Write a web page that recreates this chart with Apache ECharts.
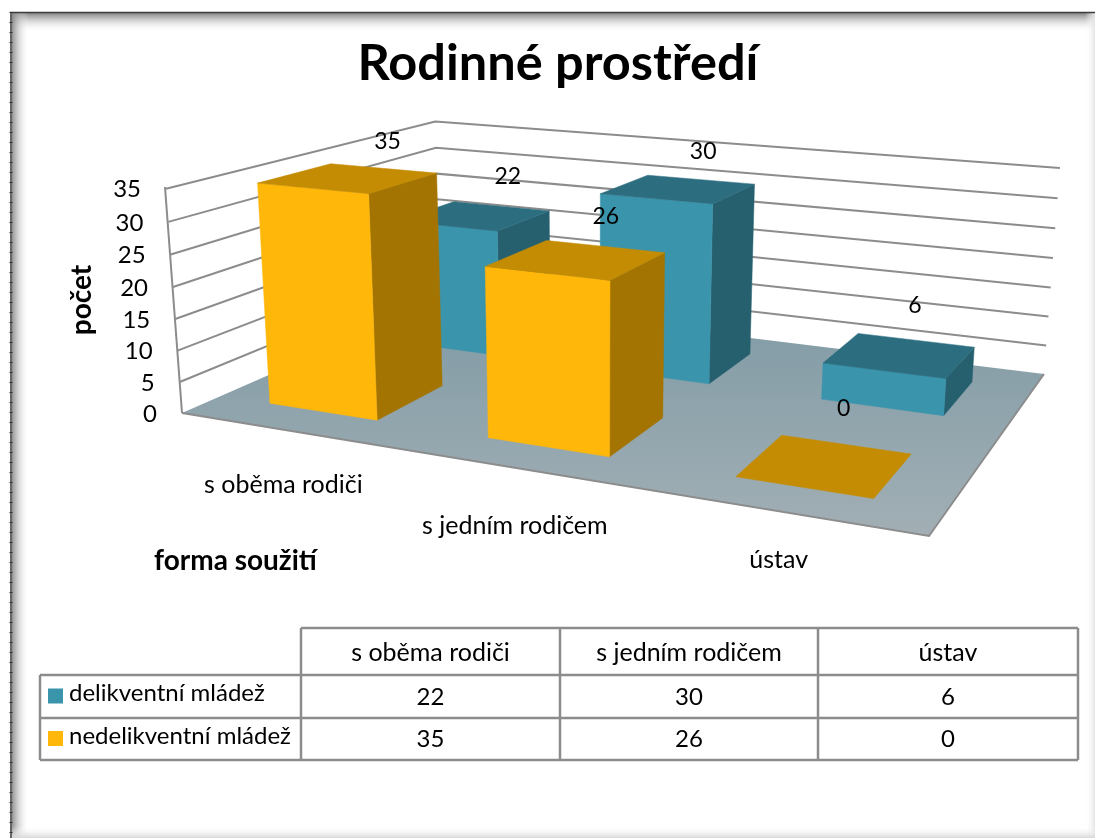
<!DOCTYPE html>
<html><head><meta charset="utf-8">
<style>html,body{margin:0;padding:0;background:#fff}#c{width:1095px;height:838px}</style>
<script src="https://cdn.jsdelivr.net/npm/echarts@6/dist/echarts.min.js"></script>
</head><body><div id="c"></div>
<script>
const titleText = 'Rodinné prostředí';
const categories = ['s oběma rodiči', 's jedním rodičem', 'ústav'];
const seriesNames = ['delikventní mládež', 'nedelikventní mládež'];
const delikventni = [22, 30, 6];
const nedelikventni = [35, 26, 0];
const yTicks = [0, 5, 10, 15, 20, 25, 30, 35];
const yName = 'počet';
const xName = 'forma soužití';

const FONT = 'Lato, "Open Sans", sans-serif';
// floor and wall corners of the 3D box on screen
const A = [182, 413], B = [929, 536], C = [1044, 374], D = [440, 300];
const At = [165, 187], Dt = [436, 128], Ct = [1060, 162];
// homography of the floor
const hom = (() => {
  const [x0, y0] = A, [x1, y1] = B, [x2, y2] = C, [x3, y3] = D;
  const dx1 = x1 - x2, dx2 = x3 - x2, dx3 = x0 - x1 + x2 - x3;
  const dy1 = y1 - y2, dy2 = y3 - y2, dy3 = y0 - y1 + y2 - y3;
  const den = dx1 * dy2 - dx2 * dy1;
  const g = (dx3 * dy2 - dx2 * dy3) / den, h = (dx1 * dy3 - dx3 * dy1) / den;
  return { a: x1 - x0 + g * x1, b: x3 - x0 + h * x3, c: x0, d: y1 - y0 + g * y1, e: y3 - y0 + h * y3, f: y0, g, h };
})();
const floorH = (u, v) => [hom.a * u + hom.b * v + hom.c, hom.d * u + hom.e * v + hom.f, hom.g * u + hom.h * v + 1];
// column of the projection matrix for height, least squares on three known top corners
const col = (() => {
  const rows = [], rhs = [];
  [[0, 0, At], [0, 1, Dt], [1, 1, Ct]].forEach(([u, v, t]) => {
    const [X, Y, W] = floorH(u, v);
    rows.push([1, 0, -t[0]]); rhs.push(t[0] * W - X);
    rows.push([0, 1, -t[1]]); rhs.push(t[1] * W - Y);
  });
  const N = [0, 1, 2].map(i => [0, 1, 2].map(j => rows.reduce((s, r) => s + r[i] * r[j], 0)));
  const b = [0, 1, 2].map(i => rows.reduce((s, r, k) => s + r[i] * rhs[k], 0));
  const det = m => m[0][0] * (m[1][1] * m[2][2] - m[1][2] * m[2][1]) - m[0][1] * (m[1][0] * m[2][2] - m[1][2] * m[2][0]) + m[0][2] * (m[1][0] * m[2][1] - m[1][1] * m[2][0]);
  const d = det(N);
  return [0, 1, 2].map(c => det(N.map((r, i) => r.map((x, j) => j === c ? b[i] : x))) / d);
})();
const P = (u, v, h) => {
  const [X, Y, W] = floorH(u, v);
  const w = W + col[2] * h;
  return [(X + col[0] * h) / w, (Y + col[1] * h) / w];
};

// hidden cartesian grid: it provides the scales, the projection turns them into the 3D box
const G = { left: 0, top: 0, width: 900, height: 700 };
const uOf = (api, x, y) => (api.coord([x, y])[0] - G.left) / G.width;
const hOf = (api, x, y) => 1 - (api.coord([x, y])[1] - G.top) / G.height;
const poly = (pts, fill, extra) => Object.assign({ type: 'polygon', shape: { points: pts }, style: { fill, stroke: fill, lineWidth: 0.5 }, silent: true }, extra || {});

const barFaces = (row, front, top, side) => (params, api) => {
  const cat = api.value(0), val = api.value(1);
  const uc = uOf(api, cat, val), hw = api.size([1, 0])[0] / G.width / 4;
  const h = hOf(api, cat, val);
  const depth = 0.5, vc = (row + 0.5) * depth, hd = depth / 4;
  const u0 = uc - hw - 0.004, u1 = uc + hw - 0.002, v0 = vc - hd, v1 = vc + hd;
  const kids = [];
  if (h > 0) {
    kids.push(poly([P(u1, v0, 0), P(u1, v1, 0), P(u1, v1, h), P(u1, v0, h)], side));
    kids.push(poly([P(u0, v0, 0), P(u1, v0, 0), P(u1, v0, h), P(u0, v0, h)], front));
  }
  kids.push(poly([P(u0, v0, h), P(u1, v0, h), P(u1, v1, h), P(u0, v1, h)], top));
  return { type: 'group', children: kids };
};
const labelItem = (row) => (params, api) => {
  const cat = api.value(0), val = api.value(1);
  const uc = uOf(api, cat, val), h = hOf(api, cat, val), vc = (row + 0.5) * 0.5;
  const p = P(uc, vc, h);
  return { type: 'text', silent: true, style: { text: String(val), x: p[0] + 37 - (p[0] - 348) * 0.0435, y: p[1] - 37 - (p[1] - 178) * 0.07, fill: '#000', font: '23px ' + FONT, align: 'center', verticalAlign: 'middle' } };
};

const lineColor = '#8c8c8c';
const boxItem = (params, api) => {
  return { type: 'group', children: [
    poly([A, At, Dt, D], '#fff'),
    poly([D, Dt, Ct, C], '#fff'),
    { type: 'polygon', silent: true, shape: { points: [A, B, C, D] }, style: { fill: { type: 'linear', x: 0, y: 0, x2: 0, y2: 1, colorStops: [{ offset: 0, color: '#7f9aa5' }, { offset: 1, color: '#a2afb5' }] } } },
    { type: 'polyline', silent: true, shape: { points: [A, B, C] }, style: { fill: 'none', stroke: lineColor, lineWidth: 2 } },
    { type: 'polyline', silent: true, shape: { points: [At, A] }, style: { fill: 'none', stroke: lineColor, lineWidth: 2 } }
  ] };
};
const tickItem = (params, api) => {
  const val = api.value(1), h = hOf(api, 0, val);
  const a = P(0, 0, h), d = P(0, 1, h), c = P(1, 1, h);
  const kids = [{ type: 'text', silent: true, style: { text: String(val), x: a[0] - 25, y: a[1] + 1, fill: '#000', font: '24px ' + FONT, align: 'right', verticalAlign: 'middle' } }];
  if (val > 0) kids.push({ type: 'polyline', silent: true, shape: { points: [a, d, c] }, style: { fill: 'none', stroke: lineColor, lineWidth: 2 } });
  return { type: 'group', children: kids };
};
const catDrop = [55, 57, 48];
const catItem = (params, api) => {
  const i = api.value(0), u = uOf(api, i, 0);
  const p = P(u, 0, 0);
  return { type: 'text', silent: true, style: { text: categories[i], x: p[0] - 4, y: p[1] + catDrop[i], fill: '#000', font: '25px ' + FONT, align: 'center', verticalAlign: 'middle' } };
};

// table and slide frame
const tX = [40, 301, 560, 818, 1078], tY = [628, 675, 718, 760];
const tLine = (x1, y1, x2, y2) => ({ type: 'line', silent: true, shape: { x1, y1, x2, y2 }, style: { stroke: lineColor, lineWidth: 2.5 } });
const tText = (text, x, y, align, size) => ({ type: 'text', silent: true, style: { text, x, y, fill: '#000', font: (size || 25) + 'px ' + FONT, align: align || 'center', verticalAlign: 'middle' } });
const tbl = [tLine(tX[1], tY[0], tX[4], tY[0])];
tY.slice(1).forEach(y => tbl.push(tLine(tX[0], y, tX[4], y)));
tbl.push(tLine(tX[0], tY[1], tX[0], tY[3]));
tX.slice(1).forEach(x => tbl.push(tLine(x, tY[0], x, tY[3])));
categories.forEach((c, i) => {
  const cx = (tX[i + 1] + tX[i + 2]) / 2;
  tbl.push(tText(c, cx, 653));
  tbl.push(tText(String(delikventni[i]), cx, 697, 'center', 24));
  tbl.push(tText(String(nedelikventni[i]), cx, 739, 'center', 24));
});
seriesNames.forEach((n, i) => {
  const y = (tY[i + 1] + tY[i + 2]) / 2;
  tbl.push({ type: 'rect', silent: true, shape: { x: 48, y: y - 8, width: 15, height: 15 }, style: { fill: i ? '#ffb70a' : '#3a94ac' } });
  tbl.push(tText(n, 69, y - 3, 'left', 24));
});
const grad = (x, y, x2, y2, c0) => ({ type: 'linear', x, y, x2, y2, colorStops: [{ offset: 0, color: c0 }, { offset: 1, color: 'rgba(255,255,255,0)' }] });
const frame = [
  { type: 'rect', silent: true, shape: { x: 10, y: 12, width: 1085, height: 20 }, style: { fill: grad(0, 0, 0, 1, '#777777') } },
  { type: 'rect', silent: true, shape: { x: 10, y: 12, width: 19, height: 826 }, style: { fill: grad(0, 0, 1, 0, '#777777') } },
  { type: 'rect', silent: true, shape: { x: 1085, y: 12, width: 10, height: 826 }, style: { fill: grad(1, 0, 0, 0, '#e4e4e4') } },
  { type: 'rect', silent: true, shape: { x: 10, y: 826, width: 1085, height: 12 }, style: { fill: grad(0, 1, 0, 0, '#d8d8d8') } },
  { type: 'line', silent: true, shape: { x1: 10, y1: 12.5, x2: 1095, y2: 12.5 }, style: { stroke: '#3c3c3c', lineWidth: 1.5 } },
  { type: 'line', silent: true, shape: { x1: 11, y1: 12, x2: 11, y2: 838 }, style: { stroke: '#666', lineWidth: 2 } },
  { type: 'line', silent: true, shape: { x1: 11, y1: 12, x2: 11, y2: 838 }, style: { stroke: '#333', lineWidth: 3, lineDash: [1, 9] } }
];

const chart = echarts.init(document.getElementById('c'), null, { renderer: 'canvas' });
const rowsOf = arr => arr.map((v, i) => [i, v]);
chart.setOption({
  animation: false,
  backgroundColor: '#fff',
  title: { text: titleText, left: 553, top: 33, textAlign: 'center', textStyle: { fontFamily: FONT, fontWeight: 'bold', fontSize: 50.5, color: '#000' } },
  grid: G,
  xAxis: { type: 'category', data: categories, show: false },
  yAxis: { type: 'value', min: 0, max: 35, interval: 5, show: false },
  tooltip: { show: false },
  graphic: [
    ...frame, ...tbl,
    { type: 'text', silent: true, rotation: Math.PI / 2, x: 82, y: 300, style: { text: yName, fill: '#000', font: 'bold 28px ' + FONT, align: 'center', verticalAlign: 'middle' } },
    { type: 'text', silent: true, style: { text: xName, x: 154, y: 561, fill: '#000', font: 'bold 28px ' + FONT, align: 'left', verticalAlign: 'middle' } }
  ],
  series: [
    { type: 'custom', name: 'box', z: 2, clip: false, renderItem: boxItem, data: [[0, 0]] },
    { type: 'custom', name: 'ticks', z: 3, clip: false, renderItem: tickItem, data: yTicks.map(t => [0, t]) },
    { type: 'custom', name: seriesNames[0], z: 4, clip: false, renderItem: barFaces(1, '#3a94ac', '#2c6e80', '#26606f'), data: rowsOf(delikventni) },
    { type: 'custom', name: seriesNames[1], z: 5, clip: false, renderItem: barFaces(0, '#ffb70a', '#c48c03', '#a37402'), data: rowsOf(nedelikventni) },
    { type: 'custom', name: 'cats', z: 6, clip: false, renderItem: catItem, data: categories.map((c, i) => [i, 0]) },
    { type: 'custom', name: 'labels0', z: 7, clip: false, renderItem: labelItem(1), data: rowsOf(delikventni) },
    { type: 'custom', name: 'labels1', z: 7, clip: false, renderItem: labelItem(0), data: rowsOf(nedelikventni) }
  ]
});
</script></body></html>
